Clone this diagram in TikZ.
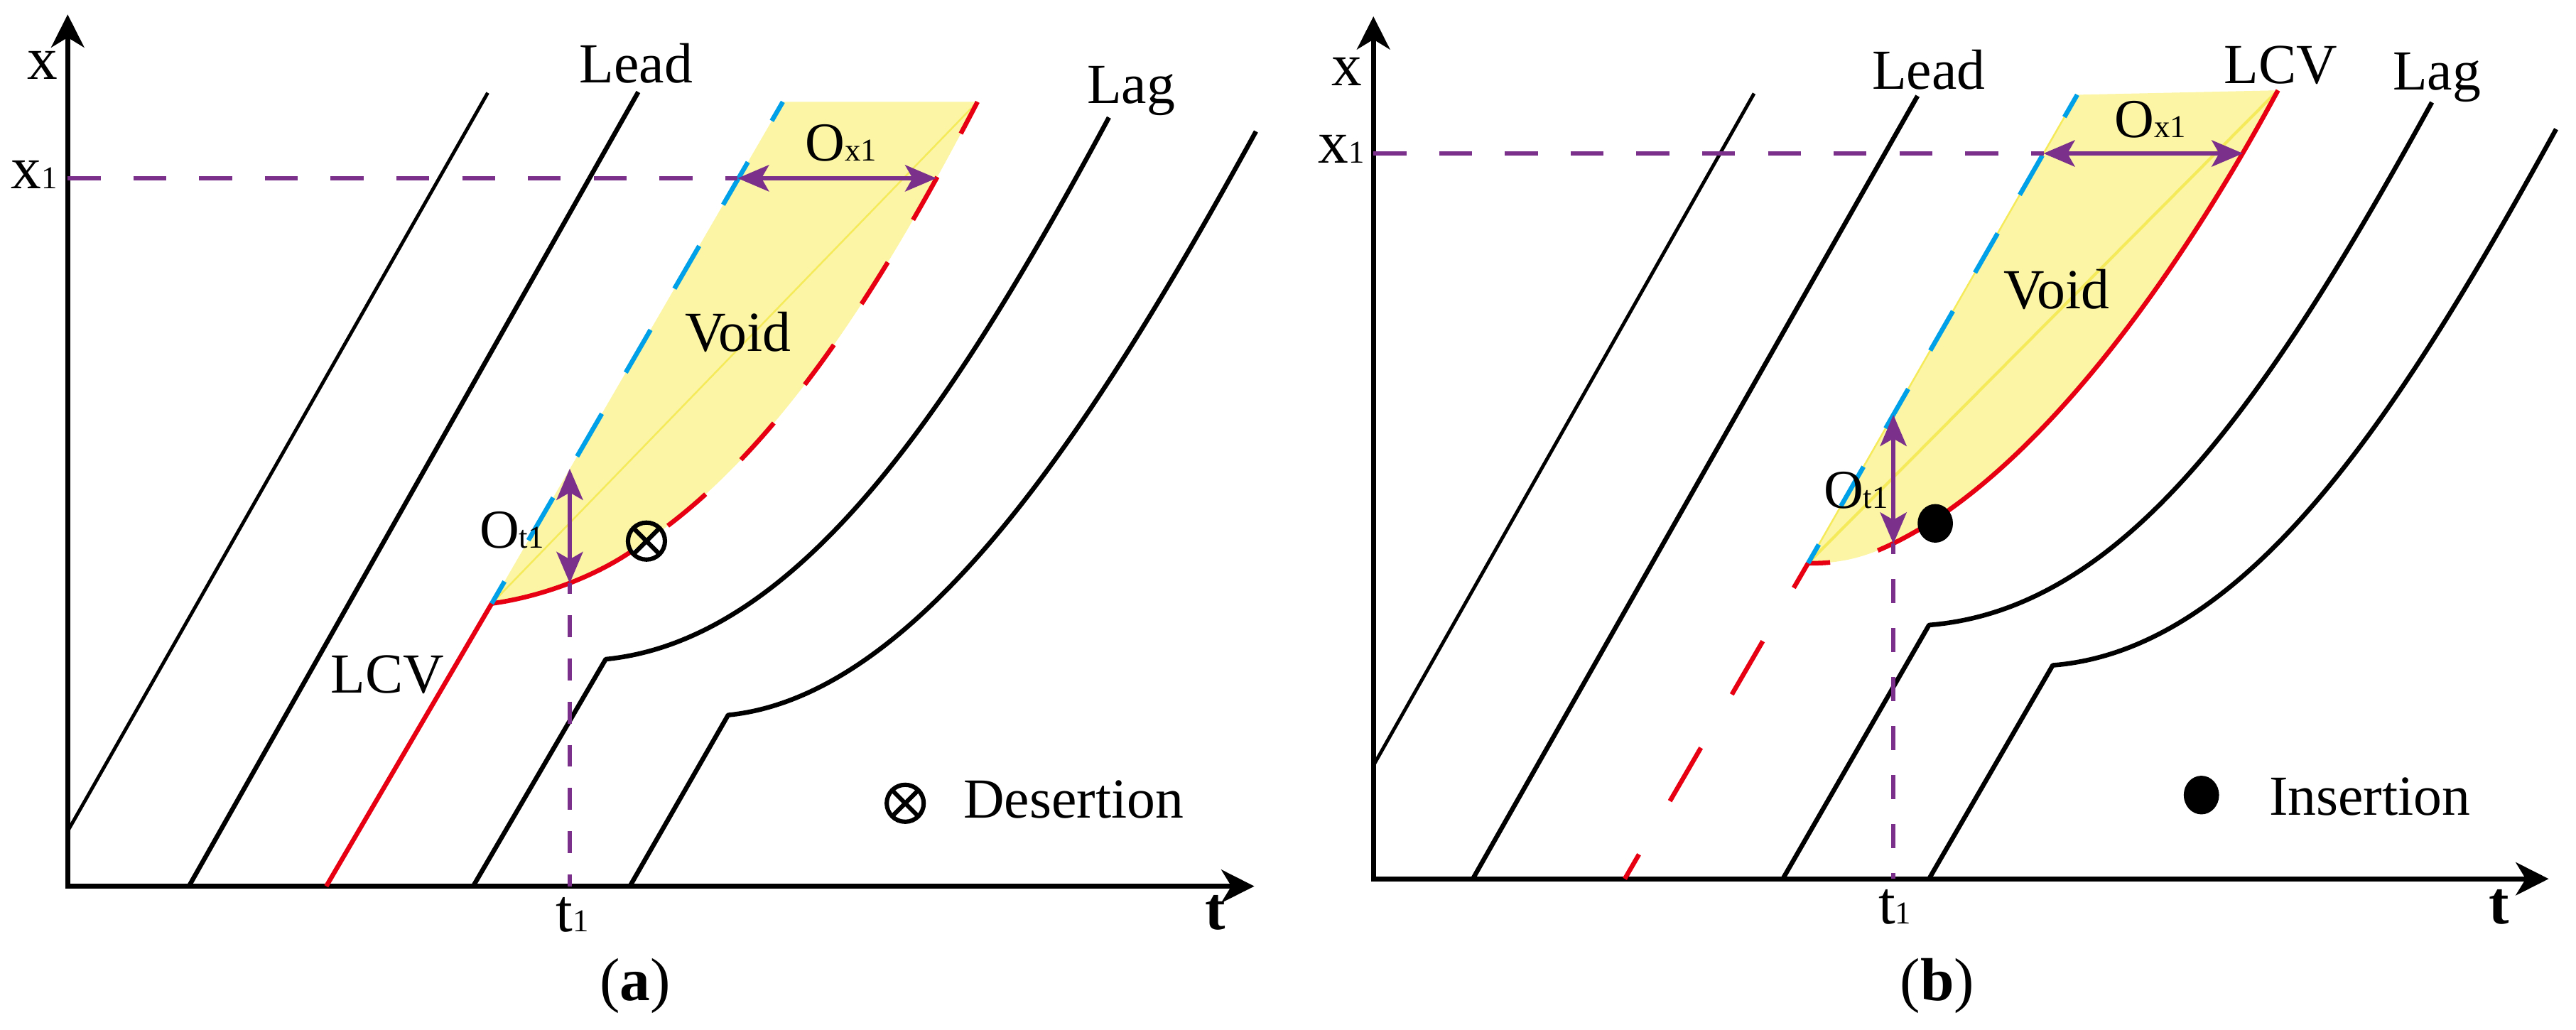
\documentclass[tikz,border=0pt]{standalone}
\usepackage{fontspec}
\setmainfont{Liberation Serif}
\usetikzlibrary{arrows.meta,shapes.geometric}
\definecolor{lcvred}{RGB}{230,0,18}
\definecolor{leadblue}{RGB}{0,160,233}
\definecolor{gapviolet}{RGB}{123,48,140}
\definecolor{voidfill}{RGB}{251,245,165}
\definecolor{voidline}{RGB}{245,234,90}
\tikzset{
  axis/.style={line width=0.9pt, {Stealth[length=2mm, width=2mm, inset=0.6mm]}-{Stealth[length=2mm, width=2mm, inset=0.6mm]}},
  traj/.style={line width=0.8pt, line join=round},
  traj-thin/.style={line width=0.6pt},
  lcv/.style={traj, draw=lcvred},
  ghost/.style={line width=0.8pt, draw=leadblue},
  guide/.style={line width=0.75pt, draw=gapviolet},
  gap/.style={line width=0.75pt, draw=gapviolet, {Stealth[length=1.9mm, width=1.6mm, inset=0.45mm]}-{Stealth[length=1.9mm, width=1.6mm, inset=0.45mm]}},
  lbl/.style={inner sep=0pt, font=\fontsize{9.8}{11}\selectfont},
  axlbl/.style={inner sep=0pt, font=\fontsize{10.5}{12}\selectfont},
  olbl/.style={inner sep=0pt, font=\fontsize{9.5}{11}\selectfont},
  desert-mark/.style={circle, draw, line width=0.75pt, minimum size=2.25mm, inner sep=0pt,
    path picture={\draw[line width=0.75pt] (path picture bounding box.north west) -- (path picture bounding box.south east)
      (path picture bounding box.north east) -- (path picture bounding box.south west);}},
  insert-mark/.style={ellipse, fill=black, minimum width=2.15mm, minimum height=2.35mm, inner sep=0pt}
}
\newcommand{\lowsub}[1]{{\fontsize{5.5}{6}\selectfont #1}}
\newcommand{\axsub}[1]{{\fontsize{5.5}{6}\selectfont #1}}

\begin{document}
\begin{tikzpicture}[x=0.01cm, y=-0.01cm]
  \useasboundingbox (0,0) rectangle (1568,627);

  % ---------------- panel (a): desertion ----------------
  \coordinate (oa) at (41.2,539.5);
  \coordinate (ka) at (299.3,367.4);   % LCV kink
  \coordinate (da) at (393.5,329.4);   % desertion point
  \coordinate (ta) at (476.5,62);
  \coordinate (ra) at (595,62);
  % Void
  \fill[voidfill] (ka) -- (ta) -- (ra) .. controls (541.1,165.6) and (476.3,273.1) .. (da)
    .. controls (364.4,349.2) and (333.1,362.7) .. (ka) -- cycle;
  \draw[voidline, line width=0.3pt] (ka) -- (ra);
  % Axes
  \draw[axis] (41.2,8.8) -- (oa) -- (763.5,539.5);
  % Trajectories
  \draw[traj-thin] (41.2,506) -- (296.9,56.5);
  \draw[traj] (115,539.5) -- (388.5,56);
  \draw[lcv, shorten >=1.15mm] (198.6,539.5) -- (ka) .. controls (333.1,362.7) and (364.4,349.2) .. (da);
  \draw[lcv, dash pattern=on 3mm off 3mm, dash phase=4.4mm] (da) .. controls (476.3,273.1) and (541.1,165.6) .. (ra);
  \draw[ghost, dash pattern=on 3mm off 2.9mm, dash phase=1.45mm] (ka) -- (ta);
  \draw[traj] (288,539.5) -- (368.7,401.3) .. controls (488.7,389.3) and (583.2,242) .. (675,71.5);
  \draw[traj] (383.4,539.5) -- (443.2,435.3) .. controls (563.2,423.3) and (671,250) .. (764.5,80);
  % Gaps
  \coordinate (xa1) at (41.2,108.5);
  \coordinate (bxa) at (449,108.5);
  \coordinate (rxa) at (570,108.5);
  \coordinate (bta) at (346.8,285.3);
  \coordinate (rta) at (346.8,355);
  \coordinate (ta1) at (346.8,539.5);
  \draw[guide, dash pattern=on 2mm off 2mm] (xa1) -- (bxa);
  \draw[gap] (bxa) -- (rxa);
  \draw[gap] (bta) -- (rta);
  \draw[guide, dash pattern=on 1.33mm off 1.3mm, dash phase=0.68mm] (rta) -- (ta1);
  % Marks
  \node[desert-mark] (desert-a) at (da) {};
  \node[desert-mark] (key-a) at (551,489) {};
  \node[lbl, anchor=base west] (key-a-txt) at (585.8,498) {Desertion};
  % Labels
  \node[lbl, anchor=base] (lead-a) at (387.2,50.5) {Lead};
  \node[lbl, anchor=base] (lag-a) at (688.5,62.7) {Lag};
  \node[lbl, anchor=base] (lcv-a) at (235.8,422) {LCV};
  \node[lbl, anchor=base] (void-a) at (449.2,214) {Void};
  \node[olbl, anchor=base] (ox-a) at (512,98) {O\lowsub{x1}};
  \node[olbl, anchor=base] (ot-a) at (311.5,333.7) {O\lowsub{t1}};
  \node[axlbl, anchor=base] (xlab-a) at (26,48) {x};
  \node[axlbl, anchor=base east] (x1-a) at (35.7,115) {x\axsub{1}};
  \node[axlbl, anchor=base] (t1-a) at (348.3,567) {t\axsub{1}};
  \node[axlbl, anchor=base] (tlab-a) at (739.6,566) {\textbf{t}};
  \node[axlbl] (cap-a) at (386.7,600.4) {(\textbf{a})};

  % ---------------- panel (b): insertion ----------------
  \coordinate (ob) at (836,535);
  \coordinate (kb) at (1100.6,342.8);  % LCV kink
  \coordinate (ab) at (1143,335.1);
  \coordinate (tb) at (1264.4,57.7);
  \coordinate (rb) at (1386.6,55);
  % Void
  \fill[voidfill] (kb) -- (tb) -- (rb) .. controls (1311,195) and (1223,301.5) .. (ab)
    .. controls (1131,340) and (1117,343.3) .. (kb) -- cycle;
  \draw[voidline, line width=0.5pt] (kb) -- (rb);
  \draw[voidline, line width=0.3pt] (kb) -- (tb);
  % Axes
  \draw[axis] (836,10) -- (ob) -- (1551.4,535);
  % Trajectories
  \draw[traj-thin] (836,466) -- (1067.7,56.9);
  \draw[traj] (896.5,535) -- (1167.2,58.4);
  \draw[lcv, dash pattern=on 3.75mm off 3.75mm, dash phase=2.03mm] (989,535) -- (kb);
  \draw[lcv, dash pattern=on 1.34mm off 5mm] (kb) .. controls (1117,343.3) and (1131,340) .. (ab);
  \draw[lcv] (ab) .. controls (1223,301.5) and (1311,195) .. (rb);
  \draw[ghost, dash pattern=on 2.76mm off 2.7mm, dash phase=1.46mm] (kb) -- (tb);
  \draw[traj] (1085.2,535) -- (1174.2,380.5) .. controls (1294.2,370.9) and (1381.3,242.3) .. (1480.3,62.3);
  \draw[traj] (1174.2,535) -- (1249.5,405) .. controls (1369.5,395.4) and (1462.4,248.6) .. (1555.9,78.6);
  % Gaps
  \coordinate (xb1) at (836,93.4);
  \coordinate (bxb) at (1243.9,93.4);
  \coordinate (rxb) at (1365.3,93.4);
  \coordinate (btb) at (1152.5,252.5);
  \coordinate (rtb) at (1152.5,331);
  \coordinate (tb1) at (1152.5,535);
  \draw[guide, dash pattern=on 2mm off 2mm] (xb1) -- (bxb);
  \draw[gap] (bxb) -- (rxb);
  \draw[gap] (btb) -- (rtb);
  \draw[guide, dash pattern=on 1.48mm off 1.5mm, dash phase=0.83mm] (rtb) -- (tb1);
  % Marks
  \node[insert-mark] (insert-b) at (1178,318.6) {};
  \node[insert-mark] (key-b) at (1340,484) {};
  \node[lbl, anchor=base west] (key-b-txt) at (1380.5,496.2) {Insertion};
  % Labels
  \node[lbl, anchor=base] (lead-b) at (1174,54.1) {Lead};
  \node[lbl, anchor=base] (lcv-b) at (1388.2,50.7) {LCV};
  \node[lbl, anchor=base] (lag-b) at (1483.3,54.5) {Lag};
  \node[lbl, anchor=base] (void-b) at (1251.8,188.1) {Void};
  \node[olbl, anchor=base] (ox-b) at (1309,83.6) {O\lowsub{x1}};
  \node[olbl, anchor=base] (ot-b) at (1129.7,309.2) {O\lowsub{t1}};
  \node[axlbl, anchor=base] (xlab-b) at (820,52) {x};
  \node[axlbl, anchor=base east] (x1-b) at (831.3,99.2) {x\axsub{1}};
  \node[axlbl, anchor=base] (t1-b) at (1153.4,562.2) {t\axsub{1}};
  \node[axlbl, anchor=base] (tlab-b) at (1521.2,562.3) {\textbf{t}};
  \node[axlbl] (cap-b) at (1179.2,600.4) {(\textbf{b})};
\end{tikzpicture}
\end{document}
